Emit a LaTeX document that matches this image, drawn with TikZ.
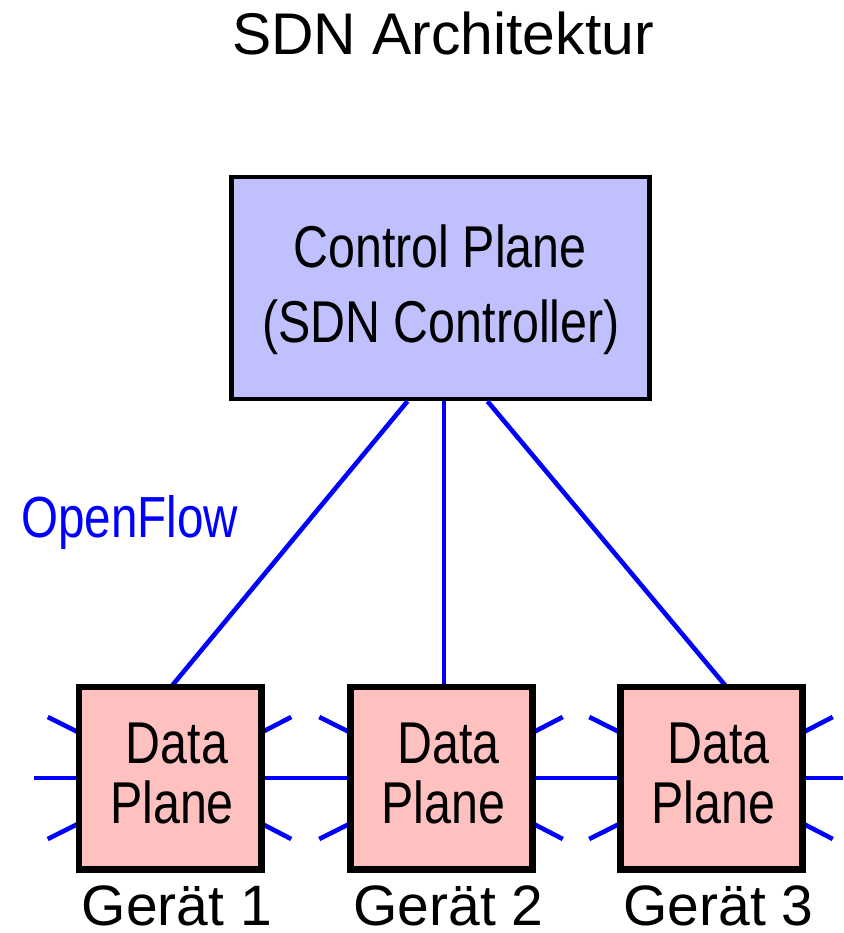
\documentclass[tikz,border=0pt]{standalone}
\usepackage{fontspec}
\setmainfont{Liberation Sans}
\newfontfamily\narrowfont[FakeStretch=0.82]{Liberation Sans}
\usetikzlibrary{calc}
\definecolor{ctrlfill}{RGB}{192,192,255}
\definecolor{datafill}{RGB}{255,192,192}
\tikzset{
  box/.style={draw=black, line width=2.25pt, inner sep=0pt},
  ctrlbox/.style={box, fill=ctrlfill, minimum width=209pt, minimum height=111pt},
  databox/.style={box, fill=datafill, minimum width=90pt, minimum height=90pt},
  link/.style={draw=blue, line width=2.3pt},
  boxtext/.style={anchor=base, inner sep=0pt, font=\narrowfont\fontsize{29.5pt}{35pt}\selectfont},
  devtext/.style={anchor=base, inner sep=0pt, text depth=0pt, font=\fontsize{28.5pt}{34pt}\selectfont},
}
\begin{document}
\begin{tikzpicture}[x=0.5pt, y=-0.5pt]
  \useasboundingbox (0,0) rectangle (843,933);

  % title
  \node[anchor=base, inner sep=0pt, font=\fontsize{29.4pt}{35pt}\selectfont] (title) at (443,54) {SDN Architektur};

  % controller
  \node[ctrlbox] (ctrl) at (440.5,288) {};
  \node[boxtext] (ctrl1) at (440,267) {Control Plane};
  \node[boxtext] (ctrl2) at (441,342) {(SDN Controller)};

  % devices
  \node[databox] (d1) at (170,778) {};
  \node[databox] (d2) at (441.5,778) {};
  \node[databox] (d3) at (711.5,778) {};

  \foreach \d/\n in {d1/1, d2/2, d3/3}{
    \node[boxtext] (\d a) at ($(\d.center)+(7,-15)$) {Data};
    \node[boxtext] (\d b) at ($(\d.center)+(2,45)$) {Plane};
    \node[devtext] (\d g) at ($(\d.center)+(7,147)$) {Gerät \n};
  }

  % protocol label
  \node[anchor=base west, inner sep=0pt, text=blue, font=\narrowfont\fontsize{29pt}{35pt}\selectfont] (of) at (21,537) {OpenFlow};

  % southbound links
  \draw[link] ($(ctrl.south)+(-33,0)$) -- ($(d1.north)+(2,0)$);
  \draw[link] ($(ctrl.south)+(3.5,0)$) -- ($(d2.north)+(2.5,0)$);
  \draw[link] ($(ctrl.south)+(47,0)$) -- ($(d3.north)+(14,0)$);

  % links between devices
  \coordinate (farleft) at (34,778);
  \coordinate (farright) at (843,778);
  \draw[link] (farleft) -- (d1.west);
  \draw[link] (d1.east) -- (d2.west);
  \draw[link] (d2.east) -- (d3.west);
  \draw[link] (d3.east) -- (farright);

  % port stubs
  \foreach \d in {d1,d2,d3}{
    \draw[link] ($(\d.west)+(0,-46)$) -- ++(-30,-15);
    \draw[link] ($(\d.west)+(0,46)$) -- ++(-30,15);
    \draw[link] ($(\d.east)+(0,-46)$) -- ++(29,-15);
    \draw[link] ($(\d.east)+(0,46)$) -- ++(29,15);
  }

  % redraw boxes on top of the stubs
  \foreach \d in {d1,d2,d3}{
    \draw[black, line width=2.25pt] (\d.north west) rectangle (\d.south east);
  }
\end{tikzpicture}
\end{document}
